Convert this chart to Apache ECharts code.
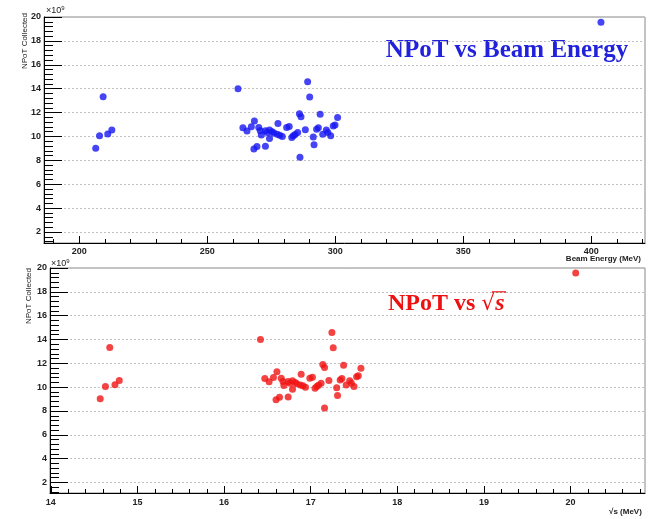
<!DOCTYPE html>
<html><head><meta charset="utf-8">
<script src="https://cdn.jsdelivr.net/npm/echarts@6/dist/echarts.min.js"></script>
<style>html,body{margin:0;padding:0;background:#fff}#c{width:653px;height:519px}</style>
</head><body><div id="c"></div>
<script>
// Beam energy (MeV) for each run
const beamEnergy = [206.4, 207.9, 209.3, 211.1, 212.7,
  262.0, 289.2, 290.0, 286.0, 286.6, 294.1, 300.9, 268.4, 277.6,
  263.9, 265.5, 267.2, 270.1, 270.7, 272.7, 273.4, 274.3, 275.3, 276.0,
  271.1, 277.3, 278.3, 279.3, 281.0, 282.0, 285.3, 284.3, 283.6, 283.0,
  288.3, 292.7, 293.4, 296.5, 297.1, 295.1, 299.2, 299.9, 291.4, 274.3,
  272.7, 269.4, 268.2, 291.7, 286.2, 298.2,
  403.8];
// sqrt(s) (MeV) for each run
const sqrtS = [14.57, 14.63, 14.68, 14.74, 14.79,
  16.42, 17.245, 17.26, 17.14, 17.16, 17.38, 17.58, 16.61, 16.89,
  16.47, 16.52, 16.57, 16.66, 16.68, 16.74, 16.76, 16.79, 16.82, 16.84,
  16.69, 16.88, 16.91, 16.94, 16.99, 17.02, 17.12, 17.09, 17.07, 17.05,
  17.21, 17.34, 17.36, 17.45, 17.47, 17.41, 17.53, 17.55, 17.30, 16.79,
  16.74, 16.64, 16.60, 17.31, 17.16, 17.50,
  20.06];
// NPoT collected (x10^9)
const npot = [9.02, 10.05, 13.33, 10.2, 10.55,
  14.0, 14.58, 13.3, 11.9, 11.65, 11.85, 11.58, 11.3, 11.08,
  10.72, 10.45, 10.82, 10.75, 10.47, 10.47, 10.33, 10.53, 10.39, 10.28,
  10.13, 10.19, 10.11, 10.0, 10.75, 10.84, 10.33, 10.17, 10.05, 9.92,
  10.56, 10.61, 10.72, 10.53, 10.33, 10.19, 10.88, 10.95, 9.95, 9.83,
  9.18, 9.16, 8.95, 9.3, 8.25, 10.05,
  19.57];

const topXTicks = [200, 250, 300, 350, 400];
const bottomXTicks = [14, 15, 16, 17, 18, 19, 20];
const yTicks = [2, 4, 6, 8, 10, 12, 14, 16, 18, 20];

function minorList(from, to, step, majors) {
  const out = [];
  for (let i = 0; from + i * step <= to + 1e-9; i++) {
    const v = +(from + i * step).toFixed(4);
    if (!majors.some(m => Math.abs(m - v) < 1e-6)) out.push(v);
  }
  return out;
}
const topXMinor = minorList(190, 420, 10, topXTicks);
const bottomXMinor = minorList(14, 20.8, 0.2, bottomXTicks);
const yMinor = minorList(1.2, 20, 0.4, yTicks);

const TOPX = [186.2, 421.0];
const BOTX = [13.99, 20.86];
const TOPY = [1.08, 20];
const BOTY = [1.12, 20];

const labelFont = {fontSize: 9, color: '#222', fontFamily: 'Liberation Sans', fontWeight: 'bold'};

function xMajor(grid, ext, ticks, margin) {
  return {gridIndex: grid, type: 'value', min: ext[0], max: ext[1], position: 'bottom',
    axisLine: {show: true, onZero: false, lineStyle: {color: '#000', width: 1}},
    axisTick: {show: true, inside: true, length: 7, customValues: ticks, lineStyle: {color: '#000'}},
    axisLabel: Object.assign({customValues: ticks, margin: margin, showMinLabel: true, showMaxLabel: true}, labelFont),
    splitLine: {show: false}};
}
function xMinor(grid, ext, ticks) {
  return {gridIndex: grid, type: 'value', min: ext[0], max: ext[1], position: 'bottom',
    axisLine: {show: false, onZero: false},
    axisTick: {show: true, inside: true, length: 4, customValues: ticks, lineStyle: {color: '#000'}},
    axisLabel: {show: false}, splitLine: {show: false}};
}
function yMajor(grid, ext) {
  return {gridIndex: grid, type: 'value', min: ext[0], max: ext[1], position: 'left', splitNumber: 10,
    axisLine: {show: true, onZero: false, lineStyle: {color: '#000', width: 1}},
    axisTick: {show: true, inside: true, length: 18, customValues: yTicks, lineStyle: {color: '#000'}},
    axisLabel: Object.assign({customValues: yTicks, margin: 3}, labelFont),
    splitLine: {show: true, lineStyle: {color: '#c0c0c0', type: [2, 2], width: 1}}};
}
function yMinorAx(grid, ext) {
  return {gridIndex: grid, type: 'value', min: ext[0], max: ext[1], position: 'left',
    axisLine: {show: false, onZero: false},
    axisTick: {show: true, inside: true, length: 9, customValues: yMinor, lineStyle: {color: '#000'}},
    axisLabel: {show: false}, splitLine: {show: false}};
}

const chart = echarts.init(document.getElementById('c'), null, {renderer: 'canvas'});
chart.setOption({
  backgroundColor: '#fff',
  animation: false,
  grid: [
    {left: 44, top: 17, width: 601, height: 226, show: true, borderColor: '#888', borderWidth: 1, backgroundColor: 'transparent'},
    {left: 50, top: 268, width: 595, height: 225, show: true, borderColor: '#888', borderWidth: 1, backgroundColor: 'transparent'}
  ],
  xAxis: [
    xMajor(0, TOPX, topXTicks, 4),
    xMinor(0, TOPX, topXMinor),
    xMajor(1, BOTX, bottomXTicks, 5),
    xMinor(1, BOTX, bottomXMinor)
  ],
  yAxis: [
    yMajor(0, TOPY), yMinorAx(0, TOPY),
    yMajor(1, BOTY), yMinorAx(1, BOTY)
  ],
  series: [
    {type: 'scatter', xAxisIndex: 0, yAxisIndex: 0, symbol: 'circle', symbolSize: 7,
      itemStyle: {color: '#1616f2'}, data: beamEnergy.map((e, i) => [e, npot[i]])},
    {type: 'scatter', xAxisIndex: 2, yAxisIndex: 2, symbol: 'circle', symbolSize: 7,
      itemStyle: {color: '#f01414'}, data: sqrtS.map((s, i) => [s, npot[i]])}
  ],
  graphic: [
    {type: 'text', x: 25, y: 13, rotation: Math.PI / 2,
      style: {text: 'NPoT Collected', fontSize: 8, fontFamily: 'Liberation Sans', fill: '#222', align: 'right', verticalAlign: 'middle'}},
    {type: 'text', x: 29, y: 268, rotation: Math.PI / 2,
      style: {text: 'NPoT Collected', fontSize: 8, fontFamily: 'Liberation Sans', fill: '#222', align: 'right', verticalAlign: 'middle'}},
    {type: 'text', x: 46, y: 11,
      style: {text: '{a|×10}{b|9}', align: 'left', verticalAlign: 'middle',
        rich: {a: {fontSize: 9, fontFamily: 'Liberation Sans', fill: '#222'}, b: {fontSize: 6, fontFamily: 'Liberation Sans', fill: '#222', verticalAlign: 'top', padding: [0, 0, 5, 0]}}}},
    {type: 'text', x: 51, y: 264,
      style: {text: '{a|×10}{b|9}', align: 'left', verticalAlign: 'middle',
        rich: {a: {fontSize: 9, fontFamily: 'Liberation Sans', fill: '#222'}, b: {fontSize: 6, fontFamily: 'Liberation Sans', fill: '#222', verticalAlign: 'top', padding: [0, 0, 5, 0]}}}},
    {type: 'text', x: 641, y: 259,
      style: {text: 'Beam Energy (MeV)', fontSize: 8, fontWeight: 'bold', fontFamily: 'Liberation Sans', fill: '#222', align: 'right', verticalAlign: 'middle'}},
    {type: 'text', x: 609, y: 512,
      style: {text: '√s (MeV)', fontSize: 8, fontWeight: 'bold', fontFamily: 'Liberation Sans', fill: '#222', align: 'left', verticalAlign: 'middle'}},
    {type: 'text', x: 507, y: 51,
      style: {text: 'NPoT vs Beam Energy', fontSize: 25, fontWeight: 'bold', fontFamily: 'Liberation Serif', fill: '#2222dd', align: 'center', verticalAlign: 'middle'}},
    {type: 'text', x: 388, y: 304,
      style: {text: '{a|NPoT vs }{r|√}{s|s}', align: 'left', verticalAlign: 'middle',
        rich: {a: {fontSize: 24, fontWeight: 'bold', fontFamily: 'Liberation Serif', fill: '#ee1111'},
               r: {fontSize: 22, fontFamily: 'DejaVu Serif', fill: '#ee1111'},
               s: {fontSize: 24, fontWeight: 'bold', fontStyle: 'italic', fontFamily: 'Liberation Serif', fill: '#ee1111'}}}},
    {type: 'line', shape: {x1: 492, y1: 292, x2: 506, y2: 292}, style: {stroke: '#ee1111', lineWidth: 1.5}}
  ]
});
</script></body></html>
